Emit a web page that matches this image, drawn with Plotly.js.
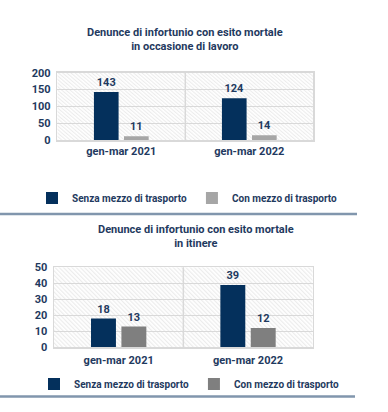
<!DOCTYPE html>
<html>
<head>
<meta charset="utf-8">
<script src="https://cdn.plot.ly/plotly-3.0.1.min.js"></script>
<style>html,body{margin:0;padding:0;background:#fff;}#chart{width:388px;height:412px;}</style>
</head>
<body>
<div id="chart"></div>
<script>
const categories = ['gen-mar 2021', 'gen-mar 2022'];
const seriesNames = ['Senza mezzo di trasporto', 'Con mezzo di trasporto'];
const lavoroSenza = [143, 124];
const lavoroCon = [11, 14];
const itinereSenza = [18, 39];
const itinereCon = [13, 12];
const title1 = 'Denunce di infortunio con esito mortale<br>in occasione di lavoro';
const title2 = 'Denunce di infortunio con esito mortale<br>in itinere';

const W = 388, H = 412;
const px = v => v / W;
const py = v => 1 - v / H;
const FONT = '"Liberation Sans Narrow", "Arial Narrow", Roboto, sans-serif';
const NAVY = '#1f3a60';
const DARK = '#04305c';

function bar(x, y, name, color, xa, ya, leg) {
  return {
    type: 'bar', x: x, y: y, name: name, xaxis: xa, yaxis: ya, legend: leg,
    showlegend: true,
    marker: {color: color},
    text: y.map(String), textposition: 'outside', cliponaxis: false,
    textfont: {family: FONT, size: 11, color: NAVY, weight: 700},
    hoverinfo: 'skip'
  };
}

const data = [
  bar(categories, lavoroSenza, seriesNames[0], DARK, 'x', 'y', 'legend'),
  bar(categories, lavoroCon, seriesNames[1], '#a6a6a6', 'x', 'y', 'legend'),
  bar(categories, itinereSenza, seriesNames[0], DARK, 'x2', 'y2', 'legend2'),
  bar(categories, itinereCon, seriesNames[1], '#7f7f7f', 'x2', 'y2', 'legend2')
];

const hatch = encodeURIComponent(
  "<svg xmlns='http://www.w3.org/2000/svg' width='260' height='80' preserveAspectRatio='none'>" +
  "<defs><pattern id='p' width='3' height='3' patternUnits='userSpaceOnUse' patternTransform='rotate(-45)'>" +
  "<rect width='3' height='3' fill='#ffffff'/><rect width='1.2' height='3' fill='#ececec'/></pattern></defs>" +
  "<rect width='260' height='80' fill='url(#p)'/></svg>");
const hatchSrc = 'data:image/svg+xml;charset=utf-8,' + hatch;

const d1 = {x0: 57.3, x1: 313.3, y0: 72.7, y1: 140};
const d2 = {x0: 54, x1: 312.7, y0: 267.3, y1: 347.3};

function xaxis(d, anchor, standoff) {
  return {
    domain: [px(d.x0), px(d.x1)], anchor: anchor, type: 'category',
    range: [-0.5, 1.5], showgrid: false, zeroline: false,
    showline: true, mirror: true, linecolor: '#d9d9d9', linewidth: 1.5,
    ticks: '', ticklabelstandoff: standoff,
    tickfont: {family: FONT, size: 11, color: NAVY, weight: 700},
    fixedrange: true
  };
}
function yaxis(d, anchor, max, dtick) {
  return {
    domain: [py(d.y1), py(d.y0)], anchor: anchor, range: [0, max], dtick: dtick,
    showgrid: true, gridcolor: '#d9d9d9', gridwidth: 1, zeroline: false,
    showline: true, mirror: true, linecolor: '#d9d9d9', linewidth: 1.5,
    ticks: '', ticklabelstandoff: 3,
    tickfont: {family: FONT, size: 11, color: NAVY, weight: 700},
    fixedrange: true
  };
}
function legend(x, y) {
  return {
    orientation: 'h', x: px(x), y: py(y), xanchor: 'left', yanchor: 'middle',
    bgcolor: 'rgba(0,0,0,0)', itemwidth: 30,
    font: {family: FONT, size: 10, color: NAVY, weight: 700},
    itemclick: false, itemdoubleclick: false, traceorder: 'normal'
  };
}

const layout = {
  width: W, height: H,
  margin: {l: 0, r: 0, t: 0, b: 0},
  paper_bgcolor: '#ffffff', plot_bgcolor: 'rgba(0,0,0,0)',
  barmode: 'group', bargap: 0.53, bargroupgap: 0.18,
  showlegend: true,
  xaxis: xaxis(d1, 'y', 0), yaxis: yaxis(d1, 'x', 200, 50),
  xaxis2: xaxis(d2, 'y2', 2), yaxis2: yaxis(d2, 'x2', 50, 10),
  legend: legend(32, 198),
  legend2: legend(34, 384),
  images: [
    {source: hatchSrc, xref: 'paper', yref: 'paper', x: px(d1.x0), y: py(d1.y0),
     sizex: px(d1.x1) - px(d1.x0), sizey: py(d1.y0) - py(d1.y1), sizing: 'stretch', layer: 'below', xanchor: 'left', yanchor: 'top'},
    {source: hatchSrc, xref: 'paper', yref: 'paper', x: px(d2.x0), y: py(d2.y0),
     sizex: px(d2.x1) - px(d2.x0), sizey: py(d2.y0) - py(d2.y1), sizing: 'stretch', layer: 'below', xanchor: 'left', yanchor: 'top'}
  ],
  shapes: [
    {type: 'line', xref: 'x', yref: 'y domain', x0: 0.5, x1: 0.5, y0: 0, y1: 1, line: {color: '#d9d9d9', width: 1.5}},
    {type: 'line', xref: 'x2', yref: 'y2 domain', x0: 0.5, x1: 0.5, y0: 0, y1: 1, line: {color: '#d9d9d9', width: 1.5}},
    {type: 'line', xref: 'paper', yref: 'paper', x0: 0, x1: px(357), y0: py(214), y1: py(214), line: {color: '#8196ad', width: 2.5}},
    {type: 'line', xref: 'paper', yref: 'paper', x0: 0, x1: px(355), y0: py(396.5), y1: py(396.5), line: {color: '#8196ad', width: 2.5}}
  ],
  annotations: [
    {text: title1, xref: 'paper', yref: 'paper', x: px(184.5), y: py(24), xanchor: 'center', yanchor: 'top',
     showarrow: false, font: {family: FONT, size: 11, color: NAVY, weight: 700}},
    {text: title2, xref: 'paper', yref: 'paper', x: px(196), y: py(221), xanchor: 'center', yanchor: 'top',
     showarrow: false, font: {family: FONT, size: 11, color: NAVY, weight: 700}}
  ]
};

Plotly.newPlot('chart', data, layout, {displayModeBar: false, staticPlot: true});
</script>
</body>
</html>
